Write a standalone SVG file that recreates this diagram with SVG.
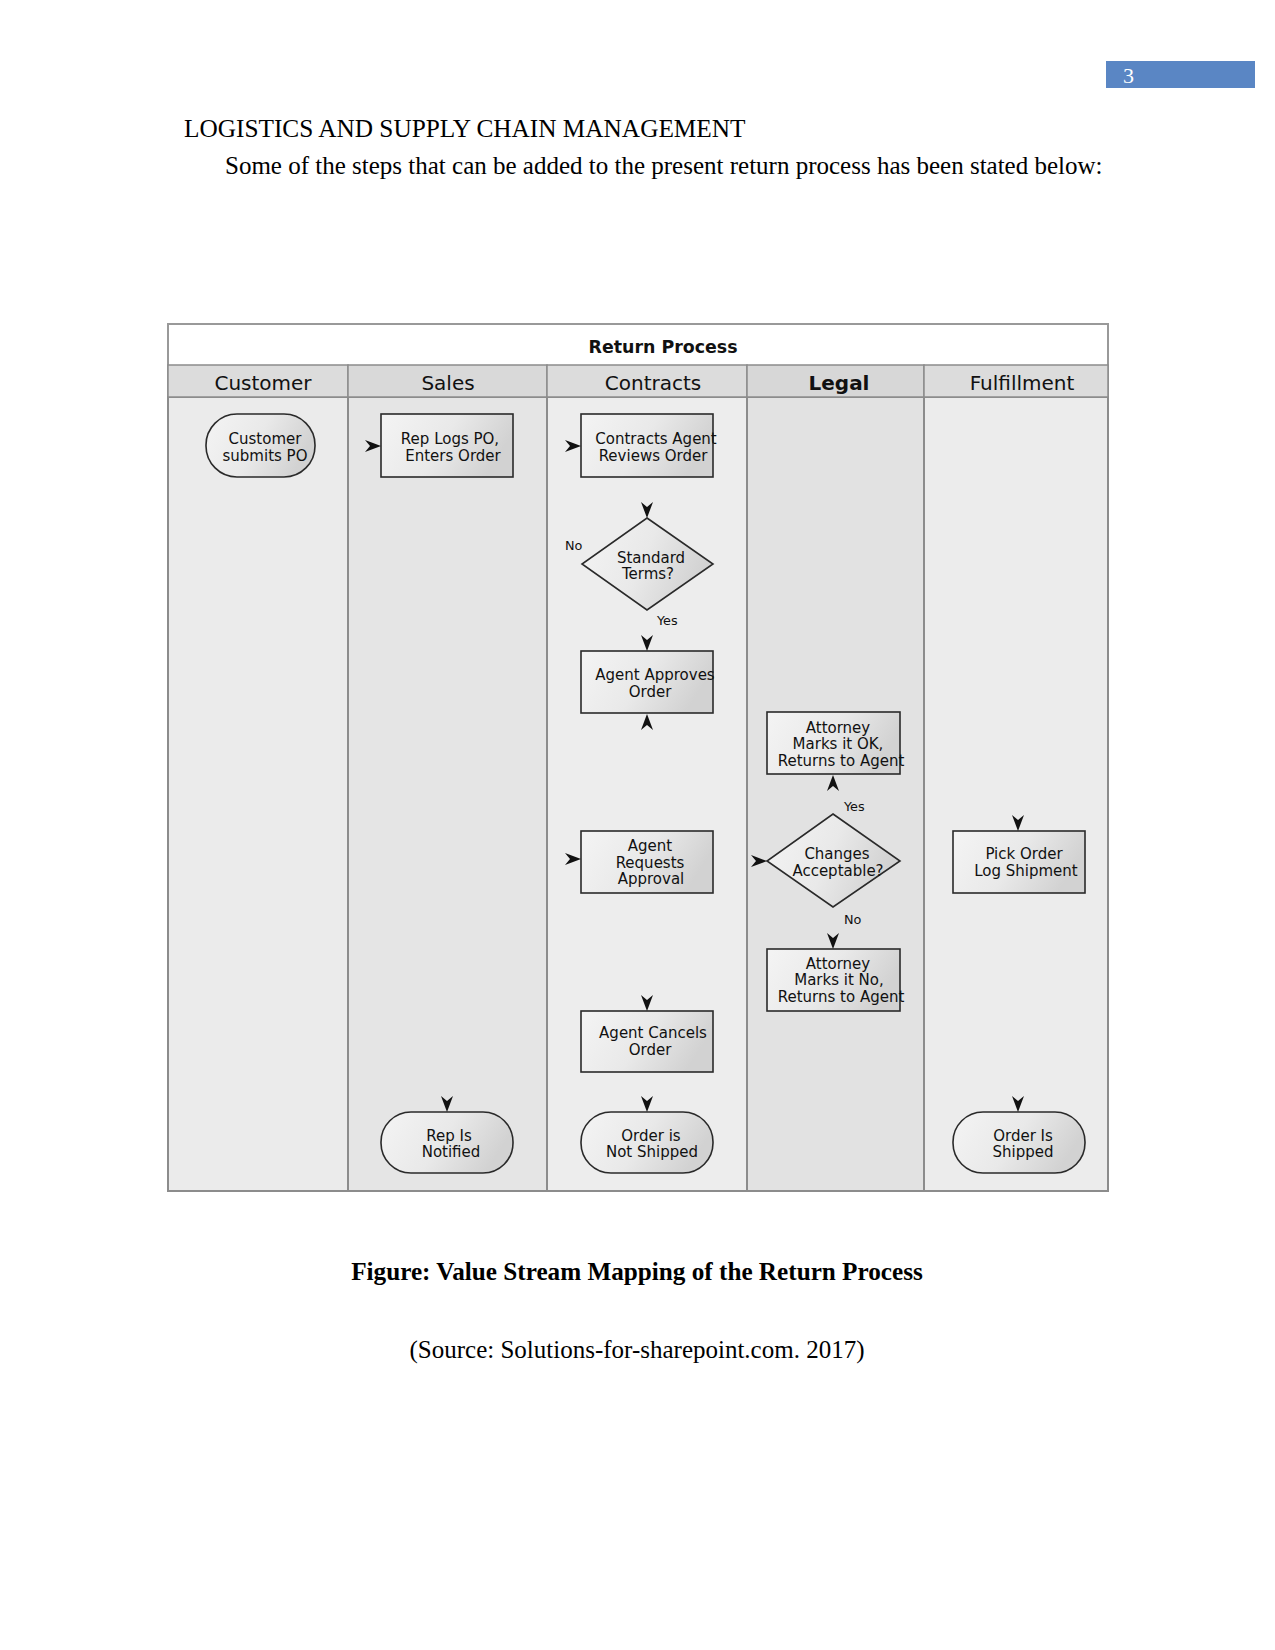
<svg xmlns="http://www.w3.org/2000/svg" width="1275" height="1650" viewBox="0 0 1275 1650">
<defs>
<linearGradient id="g" x1="0" y1="0" x2="1" y2="0.3">
<stop offset="0" stop-color="#f4f4f4"/>
<stop offset="0.55" stop-color="#e9e9e9"/>
<stop offset="1" stop-color="#d2d2d2"/>
</linearGradient>
<path id="ah" d="M0,0 L-16,-6 L-11,0 L-16,6 Z" fill="#111"/>
</defs>
<style>
.serif{font-family:"Liberation Serif","Times New Roman",serif;fill:#000}
.d{font-family:"DejaVu Sans",Verdana,sans-serif;fill:#111}
.nt{font-size:15px;text-anchor:middle}
.lb{font-size:12.8px}
.lh{font-size:20px;text-anchor:middle}
.node{fill:url(#g);stroke:#2a2a2a;stroke-width:1.6}
.lane{stroke:#8c8c8c;stroke-width:2}
.hdr{fill:#dcdcdc;stroke:#8c8c8c;stroke-width:1.5}
</style>

<rect x="1106" y="61" width="149" height="27" fill="#5a86c4"/>
<text x="1123" y="83" class="serif" font-size="22" style="fill:#fff">3</text>

<text x="184" y="137" class="serif" font-size="25.3">LOGISTICS AND SUPPLY CHAIN MANAGEMENT</text>
<text x="225" y="174" class="serif" font-size="25">Some of the steps that can be added to the present return process has been stated below:</text>

<g id="frame">
<rect x="168" y="324" width="940" height="867" fill="#fff" stroke="#999" stroke-width="2"/>
<text x="663" y="353" class="d" font-size="17.4" font-weight="bold" text-anchor="middle">Return Process</text>
<rect x="168" y="397" width="180" height="794" fill="#ebebeb" class="lane"/>
<rect x="348" y="397" width="199" height="794" fill="#e5e5e5" class="lane"/>
<rect x="547" y="397" width="200" height="794" fill="#ededed" class="lane"/>
<rect x="747" y="397" width="177" height="794" fill="#e2e2e2" class="lane"/>
<rect x="924" y="397" width="184" height="794" fill="#ececec" class="lane"/>
<rect x="168" y="365" width="180" height="32" class="hdr"/>
<rect x="348" y="365" width="199" height="32" class="hdr" style="fill:#d9d9d9"/>
<rect x="547" y="365" width="200" height="32" class="hdr"/>
<rect x="747" y="365" width="177" height="32" class="hdr" style="fill:#d7d7d7"/>
<rect x="924" y="365" width="184" height="32" class="hdr"/>
<text x="263" y="390" class="d lh">Customer</text>
<text x="448" y="390" class="d lh">Sales</text>
<text x="653" y="390" class="d lh">Contracts</text>
<text x="839" y="390" class="d lh" font-weight="bold">Legal</text>
<text x="1022" y="390" class="d lh">Fulfillment</text>
</g>

<g id="n-customer-submits">
<rect x="206" y="414" width="109" height="63" rx="31" ry="31" class="node"/>
<text class="d nt"><tspan x="265" y="444">Customer</tspan><tspan x="265" y="461">submits PO</tspan></text>
</g>
<g id="n-rep-logs">
<rect x="381" y="414" width="132" height="63" class="node"/>
<text class="d nt"><tspan x="450" y="444">Rep Logs PO,</tspan><tspan x="453" y="461">Enters Order</tspan></text>
</g>
<g id="n-contracts-agent">
<rect x="581" y="414" width="132" height="63" class="node"/>
<text class="d nt"><tspan x="656" y="444">Contracts Agent</tspan><tspan x="653" y="461">Reviews Order</tspan></text>
</g>
<g id="n-standard-terms">
<polygon points="647,518 713,564 647,610 582,564" class="node"/>
<text class="d nt"><tspan x="651" y="563">Standard</tspan><tspan x="648" y="579">Terms?</tspan></text>
</g>
<g id="n-agent-approves">
<rect x="581" y="651" width="132" height="62" class="node"/>
<text class="d nt"><tspan x="655" y="680">Agent Approves</tspan><tspan x="650" y="697">Order</tspan></text>
</g>
<g id="n-attorney-ok">
<rect x="767" y="712" width="133" height="62" class="node"/>
<text class="d nt"><tspan x="838" y="733">Attorney</tspan><tspan x="838" y="749">Marks it OK,</tspan><tspan x="841" y="766">Returns to Agent</tspan></text>
</g>
<g id="n-changes-acceptable">
<polygon points="833,814 900,861 833,907 767,861" class="node"/>
<text class="d nt"><tspan x="837" y="859">Changes</tspan><tspan x="838" y="876">Acceptable?</tspan></text>
</g>
<g id="n-attorney-no">
<rect x="767" y="949" width="133" height="62" class="node"/>
<text class="d nt"><tspan x="838" y="969">Attorney</tspan><tspan x="839" y="985">Marks it No,</tspan><tspan x="841" y="1002">Returns to Agent</tspan></text>
</g>
<g id="n-agent-requests">
<rect x="581" y="831" width="132" height="62" class="node"/>
<text class="d nt"><tspan x="650" y="851">Agent</tspan><tspan x="650" y="868">Requests</tspan><tspan x="651" y="884">Approval</tspan></text>
</g>
<g id="n-agent-cancels">
<rect x="581" y="1011" width="132" height="61" class="node"/>
<text class="d nt"><tspan x="653" y="1038">Agent Cancels</tspan><tspan x="650" y="1055">Order</tspan></text>
</g>
<g id="n-not-shipped">
<rect x="581" y="1112" width="132" height="61" rx="30" ry="30" class="node"/>
<text class="d nt"><tspan x="651" y="1141">Order is</tspan><tspan x="652" y="1157">Not Shipped</tspan></text>
</g>
<g id="n-rep-notified">
<rect x="381" y="1112" width="132" height="61" rx="30" ry="30" class="node"/>
<text class="d nt"><tspan x="449" y="1141">Rep Is</tspan><tspan x="451" y="1157">Notified</tspan></text>
</g>
<g id="n-pick-order">
<rect x="953" y="831" width="132" height="62" class="node"/>
<text class="d nt"><tspan x="1024" y="859">Pick Order</tspan><tspan x="1026" y="876">Log Shipment</tspan></text>
</g>
<g id="n-order-shipped">
<rect x="953" y="1112" width="132" height="61" rx="30" ry="30" class="node"/>
<text class="d nt"><tspan x="1023" y="1141">Order Is</tspan><tspan x="1023" y="1157">Shipped</tspan></text>
</g>

<g id="connectors">
<use href="#ah" transform="translate(381,446)"/>
<use href="#ah" transform="translate(581,446)"/>
<use href="#ah" transform="translate(647,518) rotate(90)"/>
<use href="#ah" transform="translate(647,651) rotate(90)"/>
<use href="#ah" transform="translate(647,714) rotate(-90)"/>
<use href="#ah" transform="translate(833,775) rotate(-90)"/>
<use href="#ah" transform="translate(767,861)"/>
<use href="#ah" transform="translate(833,949) rotate(90)"/>
<use href="#ah" transform="translate(581,859)"/>
<use href="#ah" transform="translate(647,1011) rotate(90)"/>
<use href="#ah" transform="translate(647,1112) rotate(90)"/>
<use href="#ah" transform="translate(447,1112) rotate(90)"/>
<use href="#ah" transform="translate(1018,831) rotate(90)"/>
<use href="#ah" transform="translate(1018,1112) rotate(90)"/>
<text x="565" y="550" class="d lb">No</text>
<text x="657" y="625" class="d lb">Yes</text>
<text x="844" y="811" class="d lb">Yes</text>
<text x="844" y="924" class="d lb">No</text>
</g>

<text x="637" y="1280" class="serif" font-size="25.2" font-weight="bold" text-anchor="middle">Figure: Value Stream Mapping of the Return Process</text>
<text x="637" y="1358" class="serif" font-size="25" text-anchor="middle">(Source: Solutions-for-sharepoint.com. 2017)</text>
</svg>
